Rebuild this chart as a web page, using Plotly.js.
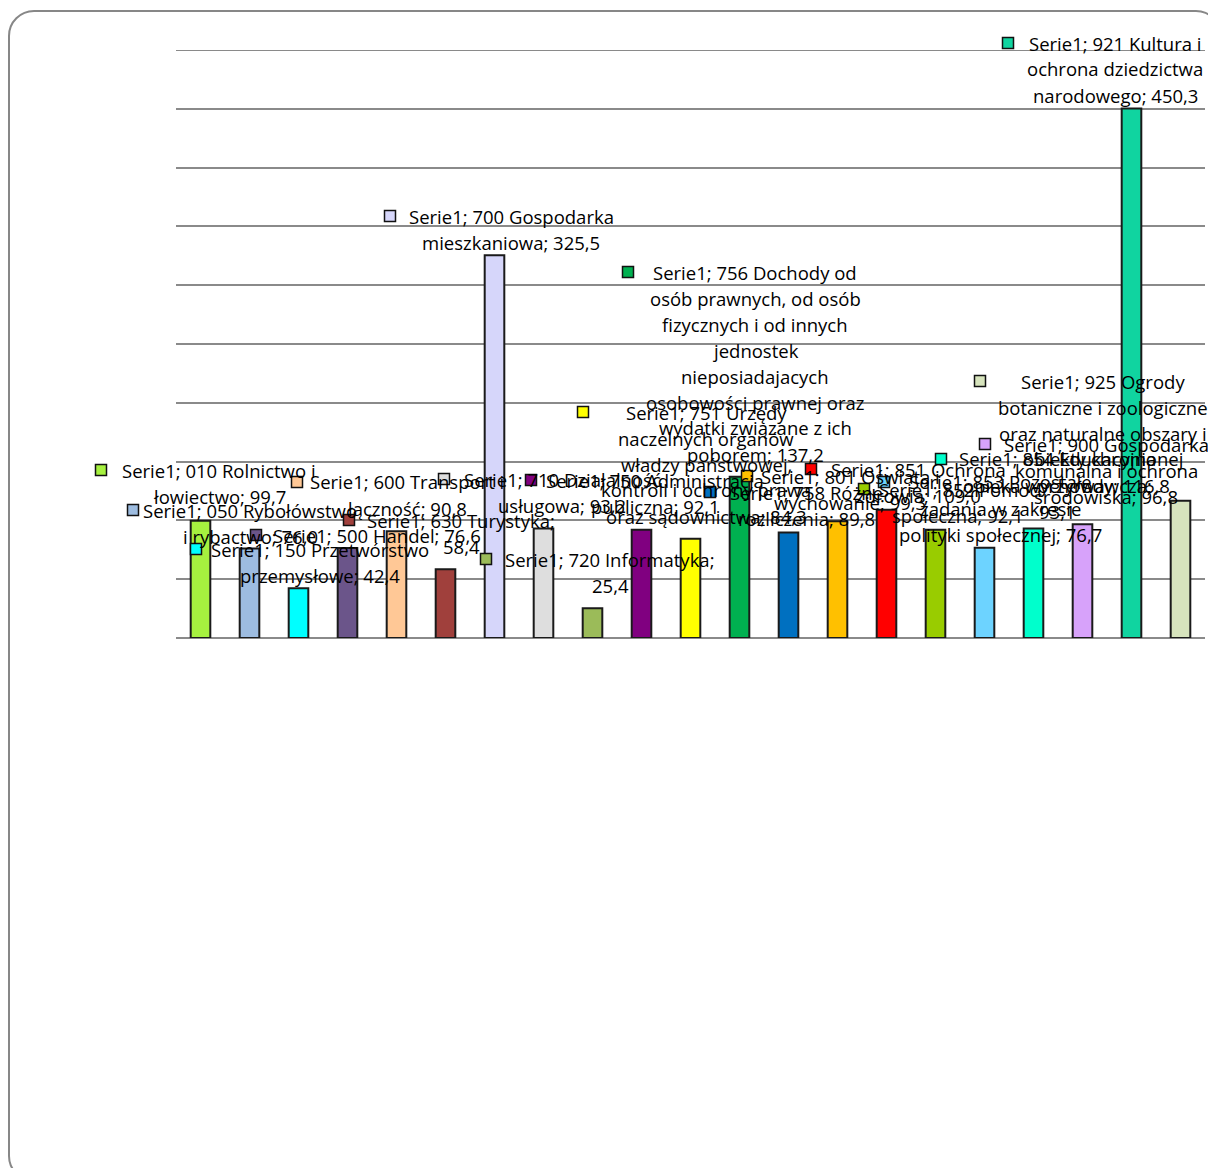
<!DOCTYPE html>
<html>
<head>
<meta charset="utf-8">
<script src="https://cdn.plot.ly/plotly-3.0.1.min.js"></script>
<style>
  html, body { margin:0; padding:0; overflow:hidden; background:#ffffff; }
  #frame { position:absolute; left:8px; top:10px; width:1214px; height:1172px;
           border:2px solid #878787; border-radius:26px; box-sizing:border-box; }
  #chart { position:absolute; left:0; top:0; width:1208px; height:1168px; }
</style>
</head>
<body>
<div id="frame"></div>
<div id="chart"></div>
<script>
// ---- data ----
const seriesName = "Serie1";
const categories = [
  "010 Rolnictwo i łowiectwo",
  "050 Rybołówstwo i rybactwo",
  "150 Przetwórstwo przemysłowe",
  "500 Handel",
  "600 Transport i łączność",
  "630 Turystyka",
  "700 Gospodarka mieszkaniowa",
  "710 Działalność usługowa",
  "720 Informatyka",
  "750 Administracja publiczna",
  "751 Urzędy naczelnych organów władzy państwowej, kontroli i ochrony prawa oraz sądownictwa",
  "756 Dochody od osób prawnych, od osób fizycznych i od innych jednostek nieposiadajacych osobowości prawnej oraz wydatki związane z ich poborem",
  "758 Różne rozliczenia",
  "801 Oświata i wychowanie",
  "851 Ochrona zdrowia",
  "852 Pomoc społeczna",
  "853 Pozostałe zadania w zakresie polityki społecznej",
  "854 Edukacyjna opieka wychowawcza",
  "900 Gospodarka komunalna i ochrona środowiska",
  "921 Kultura i ochrona dziedzictwa narodowego",
  "925 Ogrody botaniczne i zoologiczne oraz naturalne obszary i obiekty chronionej przyrody"
];
const values = [99.7, 76.0, 42.4, 76.6, 90.8, 58.4, 325.5, 93.2, 25.4, 92.1, 84.3,
                137.2, 89.8, 99.3, 109.0, 92.1, 76.7, 93.1, 96.8, 450.3, 116.8];
const yTicks = [0, 50, 100, 150, 200, 250, 300, 350, 400, 450, 500];

// ---- styles ----
const barColors = ["#A6F13F","#9DBCE0","#00FFFF","#6B558A","#FFC896","#A0403C","#D6D6FA",
                   "#DEDEDE","#9BBB59","#800080","#FFFF00","#00B050","#0070C0","#FFC000",
                   "#FF0000","#99CC00","#6DD3FF","#00FFCC","#D7A2FA","#10D4A0","#D7E4BD"];
// words per wrapped line of each data label
const wrapWords = [[4,2],[3,3],[3,2],[4],[4,2],[3,1],[3,2],[3,2],[3,1],[3,2],[3,2,2,4,3],
                   [4,4,4,1,1,3,4,2],[3,2],[4,2],[3,2],[3,2],[3,3,3],[3,2,1],[3,3,2],[4,2,2],[3,3,4,2,2]];
// label layout in page pixels: [key square x, first line y, text centre x]
const labelPos = [[101,470,219],[133,510,250],[196,549,320],[256,535,377],[297,482,407],
                  [349,520,461],[390,216,511],[444,479,562],[486,559,610],[531,480,655],
                  [583,412,706],[628,272,755],[710,492,806],[747,476,850],[811,469,918],
                  [864,489,958],[884,482,1000],[941,459,1057],[985,444,1106],[1008,43,1115],
                  [980,381,1103]];

const L = 176, T = 50, PW = 1029, PH = 588, LINE = 26, KEY = 11;
const FONT = "'Open Sans', Lato, sans-serif";
const px2x = p => (p - L) / PW;
const py2y = p => (T + PH - p) / PH;

const annotations = [];
const shapes = [{
  type: 'line', xref: 'paper', yref: 'y', x0: 0, x1: 1,
  y0: yTicks[yTicks.length - 1], y1: yTicks[yTicks.length - 1],
  layer: 'below', line: {color: '#8A8A8A', width: 2}
}];
categories.forEach((cat, i) => {
  const valTxt = values[i].toFixed(1).replace('.', ',');
  const words = (seriesName + "; " + cat + "; " + valTxt).split(" ");
  const lines = [];
  let k = 0;
  wrapWords[i].forEach(n => { lines.push(words.slice(k, k + n).join(" ")); k += n; });
  const [sx, sy, cx] = labelPos[i];
  lines.forEach((ln, j) => {
    annotations.push({
      xref: 'paper', yref: 'paper', x: px2x(cx), y: py2y(sy + j * LINE),
      xanchor: 'center', yanchor: 'middle', showarrow: false, text: ln,
      font: {family: FONT, size: 18.5, color: '#000000'}
    });
  });
  shapes.push({
    type: 'rect', xref: 'paper', yref: 'paper', layer: 'above',
    x0: px2x(sx - KEY/2), x1: px2x(sx + KEY/2),
    y0: py2y(sy + KEY/2), y1: py2y(sy - KEY/2),
    fillcolor: barColors[i], line: {color: '#111111', width: 1.5}
  });
});

const trace = {
  type: 'bar', x: categories, y: values,
  marker: {color: barColors, line: {color: '#1a1a1a', width: 2}},
  hoverinfo: 'x+y'
};

const layout = {
  width: 1208, height: 1168,
  margin: {l: L, r: 1208 - L - PW, t: T, b: 1168 - T - PH, pad: 0},
  paper_bgcolor: 'rgba(0,0,0,0)', plot_bgcolor: 'rgba(0,0,0,0)',
  showlegend: false, bargap: 0.6,
  xaxis: {type: 'category', showticklabels: false, showgrid: false, ticks: '',
          showline: false, zeroline: false, fixedrange: true},
  yaxis: {range: [0, 500], tickvals: yTicks, showticklabels: false, ticks: '',
          showgrid: true, gridcolor: '#8A8A8A', gridwidth: 2,
          zeroline: true, zerolinecolor: '#8A8A8A', zerolinewidth: 2,
          showline: false, fixedrange: true},
  annotations: annotations, shapes: shapes
};

Plotly.newPlot('chart', [trace], layout, {displayModeBar: false, staticPlot: true});
</script>
</body>
</html>
